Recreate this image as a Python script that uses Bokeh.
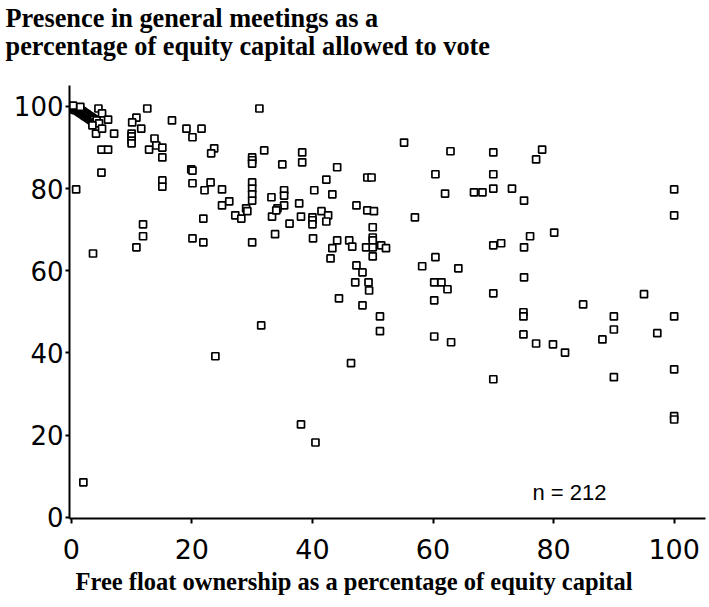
from bokeh.plotting import figure
from bokeh.models import Title, Label, FixedTicker, Range1d
from bokeh.embed import file_html
from bokeh.resources import INLINE

# Free float (% of equity capital) and presence at general meetings (% of voting capital),
# grouped by free-float band.
float_0_10 = [0.1, 0.2, 0.3, 0.4, 0.5, 0.6, 0.7, 0.8, 0.9, 1.0, 1.1, 1.2, 1.3, 1.4,
              1.5, 1.6, 1.7, 1.8, 1.9, 2.0, 2.1, 2.2, 2.3, 2.4, 2.5, 2.6, 2.7, 2.8,
              2.9, 3.0, 3.1, 3.2, 3.3, 3.4, 3.5, 3.6, 3.7, 3.8, 4.0, 4.2, 0.3, 1.5,
              4.5, 5.1, 6.1, 4.6, 3.5, 4.1, 5.1, 7.1, 5.0, 6.1, 5.0, 0.8, 3.6, 2.0]
presence_0_10 = [100.0, 99.6, 99.9, 99.3, 99.8, 99.5, 99.1, 99.7, 99.2, 99.6, 98.9, 99.4, 98.7, 99.2,
                 98.5, 99.0, 98.3, 98.8, 98.1, 98.6, 97.9, 98.4, 97.7, 98.2, 97.5, 98.0, 97.3, 97.8,
                 97.1, 97.6, 96.9, 97.4, 96.7, 97.2, 96.5, 97.0, 96.3, 96.8, 96.2, 96.6, 100.2, 99.9,
                 99.5, 98.3, 96.8, 95.9, 95.4, 93.4, 94.6, 93.4, 89.5, 89.5, 83.9, 79.8, 64.2, 8.5]

float_10_30 = [12.6, 10.8, 10.1, 11.6, 10.0, 10.0, 10.0, 10.0, 16.7, 19.1, 21.6, 20.1, 13.8, 12.9,
               14.1, 15.1, 15.1, 23.7, 23.2, 19.9, 20.1, 15.1, 15.1, 20.1, 23.1, 22.1, 25.0, 25.0,
               26.2, 29.0, 11.9, 11.9, 10.8, 20.1, 21.9, 21.9, 27.2, 28.2, 29.2, 23.9]
presence_10_30 = [99.5, 97.3, 96.1, 94.6, 93.4, 92.7, 91.7, 91.0, 96.6, 94.6, 94.6, 92.5, 92.2, 89.5,
                  90.5, 90.0, 87.6, 89.8, 88.6, 84.7, 84.4, 82.0, 80.5, 81.3, 81.5, 79.6, 79.8, 75.9,
                  76.9, 75.2, 71.3, 68.4, 65.7, 67.9, 72.7, 66.9, 73.5, 72.7, 74.5, 39.2]

float_30_50 = [31.2, 32.0, 30.0, 30.0, 30.0, 35.0, 38.3, 38.3, 44.1, 42.3, 49.1, 30.0, 30.0, 30.0,
               30.0, 33.2, 35.3, 35.3, 35.3, 37.8, 40.3, 43.3, 47.3, 34.2, 49.8, 49.1, 48.9, 30.0,
               33.3, 34.0, 33.8, 31.5, 36.2, 38.1, 40.0, 40.0, 40.0, 41.5, 42.6, 42.3, 40.1, 44.1,
               43.3, 46.1, 46.6, 43.0, 47.3, 48.3, 47.1, 49.3, 49.4, 44.4, 48.3, 38.1, 40.5, 46.4]
presence_30_50 = [99.5, 89.3, 87.6, 86.9, 86.1, 85.9, 88.8, 86.4, 85.2, 82.2, 82.7, 81.5, 80.0, 78.6,
                  77.1, 77.9, 79.6, 78.3, 75.9, 76.4, 79.6, 78.6, 75.9, 75.2, 82.7, 74.7, 65.7, 66.9,
                  73.2, 74.7, 68.9, 46.7, 71.5, 73.2, 73.0, 72.3, 71.3, 74.5, 73.5, 72.0, 67.9, 67.4,
                  65.5, 67.4, 65.9, 63.0, 61.3, 59.6, 57.2, 57.2, 55.2, 53.3, 51.6, 22.6, 18.2, 37.5]

float_50_100 = [55.2, 62.9, 70.0, 60.4, 70.0, 62.0, 66.8, 68.2, 70.0, 73.1, 75.1, 50.2, 57.0, 50.0,
                50.0, 50.0, 50.0, 51.4, 52.2, 70.0, 71.3, 75.1, 76.1, 78.1, 77.1, 100.0, 100.0, 80.1,
                50.0, 51.2, 51.2, 60.4, 58.2, 64.2, 60.2, 61.4, 62.4, 60.2, 60.2, 63.0, 75.1, 70.0,
                84.9, 95.0, 75.0, 75.0, 90.0, 100.0, 90.0, 97.2, 75.0, 77.1, 79.9, 81.9, 88.1, 70.0,
                90.0, 100.0, 100.0, 100.0]
presence_50_100 = [91.2, 89.1, 88.8, 83.5, 83.5, 78.8, 79.1, 79.1, 80.0, 80.0, 77.1, 74.5, 73.0, 70.6,
                   68.1, 67.4, 65.7, 66.2, 65.5, 66.2, 66.7, 65.7, 68.4, 89.5, 87.1, 79.8, 73.5, 69.3,
                   63.5, 48.9, 45.3, 63.3, 61.1, 60.6, 57.2, 57.2, 55.5, 52.8, 44.0, 42.6, 58.4, 54.5,
                   51.8, 54.3, 49.9, 48.9, 48.9, 48.9, 45.7, 44.8, 44.5, 42.3, 42.1, 40.1, 43.3, 33.6,
                   34.1, 36.0, 24.6, 23.8]

tick_values = [0, 20, 40, 60, 80, 100]
n_label = "n = 212"

free_float = float_0_10 + float_10_30 + float_30_50 + float_50_100
presence = presence_0_10 + presence_10_30 + presence_30_50 + presence_50_100

p = figure(width=709, height=607, output_backend="svg", toolbar_location=None,
           x_range=Range1d(-0.3, 105.2), y_range=Range1d(-0.3, 105.1),
           min_border_left=69, min_border_right=4, min_border_top=85, min_border_bottom=89)
p.background_fill_color = "white"
p.border_fill_color = "white"
p.outline_line_color = None
p.grid.visible = False

p.scatter(free_float, presence, marker="square", size=7, fill_color="white",
          line_color="black", line_width=1.7)

for ax in (p.xaxis[0], p.yaxis[0]):
    ax.ticker = FixedTicker(ticks=tick_values)
    ax.axis_line_width = 2
    ax.axis_line_color = "black"
    ax.major_tick_line_width = 2
    ax.major_tick_line_color = "black"
    ax.major_tick_in = 0
    ax.minor_tick_line_color = None
    ax.major_label_text_font = "DejaVu Sans"
    ax.major_label_text_color = "black"

p.xaxis.major_label_text_font_size = "27px"
p.yaxis.major_label_text_font_size = "26px"
p.xaxis.major_tick_out = 5
p.xaxis.major_label_standoff = 15
p.yaxis.major_tick_out = 4
p.yaxis.major_label_standoff = 2

p.add_layout(Label(x=76.5, y=6, text=n_label, text_font="Liberation Sans",
                   text_font_size="22px", text_color="black", text_baseline="middle"))

serif = dict(text_font="Liberation Serif", text_font_style="bold", text_color="black", align="left")
# blank spacer between the heading and the plot area
p.add_layout(Title(text=" ", text_font_size="1px", standoff=19), "above")
p.add_layout(Title(text="Presence in general meetings as a\npercentage of equity capital allowed to vote",
                   offset=-64, standoff=4, text_font_size="26.3px", text_line_height=0.97, **serif), "above")
p.add_layout(Title(text="Free float ownership as a percentage of equity capital", offset=6,
                   standoff=8, text_font_size="24.5px", **serif), "below")

open("out.html", "w").write(file_html(p, INLINE))
